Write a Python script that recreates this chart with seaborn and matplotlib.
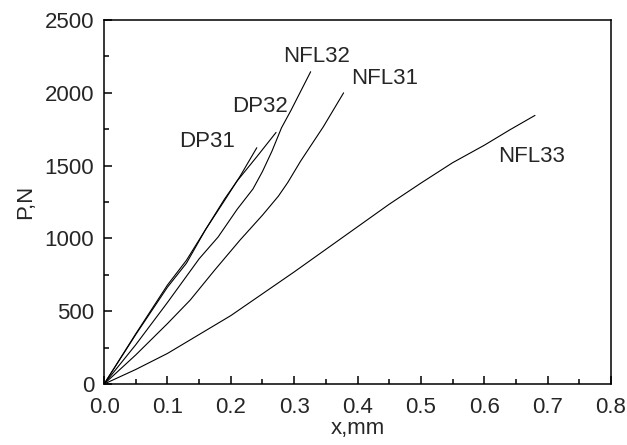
import matplotlib
matplotlib.use("Agg")
import matplotlib.pyplot as plt
import seaborn as sns
import pandas as pd
from matplotlib.ticker import MultipleLocator, FormatStrFormatter

# load-displacement curves
dp31_x = [0, 0.05, 0.10, 0.13, 0.16, 0.19, 0.215, 0.241]
dp31_y = [0, 345, 680, 850, 1060, 1260, 1430, 1623]

dp32_x = [0, 0.05, 0.10, 0.13, 0.16, 0.19, 0.21, 0.241, 0.2714]
dp32_y = [0, 340, 665, 830, 1060, 1270, 1395, 1561, 1728]

nfl31_x = [0, 0.05, 0.10, 0.136, 0.175, 0.2146, 0.25, 0.275, 0.29, 0.31, 0.346, 0.378]
nfl31_y = [0, 200, 415, 577, 785, 989, 1160, 1290, 1385, 1530, 1767, 2000]

nfl32_x = [0, 0.05, 0.10, 0.15, 0.18, 0.21, 0.235, 0.25, 0.265, 0.28, 0.295, 0.326]
nfl32_y = [0, 270, 560, 860, 1010, 1200, 1340, 1460, 1600, 1760, 1880, 2145]

nfl33_x = [0, 0.05, 0.10, 0.20, 0.30, 0.40, 0.45, 0.50, 0.55, 0.60, 0.64, 0.68]
nfl33_y = [0, 100, 210, 470, 770, 1080, 1235, 1380, 1520, 1640, 1745, 1845]

curves = {
    "DP31": (dp31_x, dp31_y),
    "DP32": (dp32_x, dp32_y),
    "NFL31": (nfl31_x, nfl31_y),
    "NFL32": (nfl32_x, nfl32_y),
    "NFL33": (nfl33_x, nfl33_y),
}

# label name -> where the text sits
label_names = ["NFL32", "NFL31", "DP32", "DP31", "NFL33"]
label_x = [0.336, 0.443, 0.246, 0.162, 0.675]
label_y = [2248, 2101, 1905, 1664, 1561]

sns.set_style("ticks")
plt.rcParams["font.family"] = ["Liberation Sans", "DejaVu Sans"]

fig = plt.figure(figsize=(6.27, 4.45), dpi=100)
ax = fig.add_subplot(111)
fig.subplots_adjust(left=0.166, right=0.9745, bottom=0.137, top=0.955)

for name, (xs, ys) in curves.items():
    df = pd.DataFrame({"x": xs, "y": ys})
    sns.lineplot(data=df, x="x", y="y", ax=ax, color="black", linewidth=0.8,
                 sort=False, estimator=None)

for name, lx, ly in zip(label_names, label_x, label_y):
    ax.text(lx, ly, name, fontsize=16, ha="center", va="center")

ax.set_xlim(0, 0.8)
ax.set_ylim(0, 2500)
ax.xaxis.set_major_locator(MultipleLocator(0.1))
ax.xaxis.set_minor_locator(MultipleLocator(0.05))
ax.yaxis.set_major_locator(MultipleLocator(500))
ax.yaxis.set_minor_locator(MultipleLocator(250))
ax.xaxis.set_major_formatter(FormatStrFormatter("%.1f"))
ax.tick_params(which="both", direction="in", top=False, right=False,
               width=1.1, labelsize=16, color="black")
ax.tick_params(which="major", length=5.8)
ax.tick_params(axis="x", which="major", pad=9)
ax.tick_params(axis="y", which="major", pad=7)
ax.tick_params(which="minor", length=3.6)
for s in ax.spines.values():
    s.set_visible(True)
    s.set_linewidth(1.1)
    s.set_color("black")

ax.set_xlabel("x,mm", fontsize=16, labelpad=0)
ax.set_ylabel("P,N", fontsize=16, labelpad=6)

fig.savefig("out.png", dpi=100)
